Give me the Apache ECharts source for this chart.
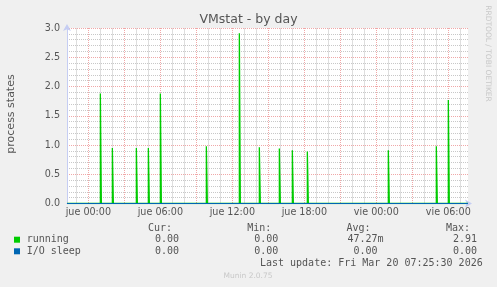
<!DOCTYPE html>
<html><head><meta charset="utf-8">
<script src="https://cdn.jsdelivr.net/npm/echarts@6/dist/echarts.min.js"></script>
<style>html,body{margin:0;padding:0;background:#f0f0f0;}#c{width:497px;height:287px;}</style>
</head><body><div id="c"></div>
<script>
// ---- data ----
const chartTitle = 'VMstat - by day';
const yAxisName = 'process states';
const dayNames = ['jue', 'vie'];
const xStartHours = -1.78;   // left edge of plot, hours relative to jue 00:00
const xEndHours = 31.64;     // right edge of plot
const xTickLabels = ['jue 00:00', 'jue 06:00', 'jue 12:00', 'jue 18:00', 'vie 00:00', 'vie 06:00'];
const yTickLabels = ['0.0', '0.5', '1.0', '1.5', '2.0', '2.5', '3.0'];
const runningTimes = ['jue 01:00', 'jue 02:00', 'jue 04:00', 'jue 05:00', 'jue 06:00', 'jue 09:50',
  'jue 12:35', 'jue 14:15', 'jue 15:55', 'jue 17:00', 'jue 18:15', 'vie 01:00', 'vie 05:00', 'vie 06:00'];
const runningValues = [1.88, 0.95, 0.95, 0.95, 1.88, 0.98, 2.91, 0.96, 0.94, 0.91, 0.89, 0.91, 0.98, 1.77];
const ioSleepValues = [0, 0];
const seriesNames = ['running', 'I/O sleep'];
const seriesColors = ['#00cc00', '#0066b3'];
const statHeaders = ['Cur:', 'Min:', 'Avg:', 'Max:'];
const runningStats = ['0.00', '0.00', '47.27m', '2.91'];
const ioSleepStats = ['0.00', '0.00', '0.00', '0.00'];
const lastUpdate = 'Last update: Fri Mar 20 07:25:30 2026';
const footerText = 'Munin 2.0.75';
const watermark = 'RRDTOOL / TOBI OETIKER';

// ---- helpers ----
function toHours(s) {
  const [d, hm] = s.split(' ');
  const [h, m] = hm.split(':').map(Number);
  return dayNames.indexOf(d) * 24 + h + m / 60;
}
const step = 5 / 60; // one 5-minute sample
const runningData = [[xStartHours, 0]];
runningTimes.forEach((t, i) => {
  const x = toHours(t);
  runningData.push([x, 0], [x, runningValues[i]], [x + step, 0]);
});
runningData.push([xEndHours, 0]);
const ioData = [[xStartHours, ioSleepValues[0]], [xEndHours, ioSleepValues[1]]];

function xLabel(v) {
  const h = Math.round(v);
  if (Math.abs(v - h) > 1e-6) return '';
  const d = Math.floor(h / 24);
  const hh = ((h % 24) + 24) % 24;
  const lbl = dayNames[d] + ' ' + String(hh).padStart(2, '0') + ':00';
  return xTickLabels.indexOf(lbl) >= 0 ? lbl : '';
}

// ---- layout ----
const FONT = 'DejaVu Sans';
const MONO = 'DejaVu Sans Mono';
const txtColor = '#555';
const gridGrey = '#c8c8c8';
const gridGreyV = '#dedede';
const gridRed = '#f0a8a8';
const axisColor = '#c5cdf3';

const colRight = [179, 278.3, 377.6, 477];
const rowY = [228.3, 239.7, 251.3];
const graphics = [];
function t(text, x, y, opts) {
  graphics.push({ type: 'text', x: x, y: y, silent: true, rotation: (opts && opts.rot) || 0,
    style: Object.assign({ text: text, fill: txtColor, font: '10px ' + MONO, textAlign: 'left', textVerticalAlign: 'middle' }, opts && opts.style) });
}
t(chartTitle, 248.5, 19.5, { style: { font: '12.5px ' + FONT, textAlign: 'center' } });
t(yAxisName, 11, 114, { rot: Math.PI / 2, style: { font: '11px ' + FONT, textAlign: 'center' } });
t(watermark, 488, 53.5, { rot: -Math.PI / 2, style: { font: '7.5px ' + FONT, textAlign: 'center', fill: '#c8c8c8' } });
t(footerText, 248, 276.3, { style: { font: '7.5px ' + FONT, textAlign: 'center', fill: '#c8c8c8' } });
statHeaders.forEach((h, i) => t(h, colRight[i] - 7, rowY[0], { style: { textAlign: 'right' } }));
[runningStats, ioSleepStats].forEach((stats, r) => {
  const y = rowY[r + 1];
  graphics.push({ type: 'rect', silent: true, shape: { x: 14, y: y - 3, width: 6, height: 6 }, style: { fill: seriesColors[r] } });
  t(seriesNames[r], 26.7, y);
  stats.forEach((s, i) => {
    const m = s.match(/^([-0-9.]+)(.*)$/);
    t(m[1], colRight[i], y, { style: { textAlign: 'right' } });
    if (m[2]) t(m[2], colRight[i], y);
  });
});
t(lastUpdate, 482.7, 263.7, { style: { textAlign: 'right' } });

const chart = echarts.init(document.getElementById('c'), null, { renderer: 'canvas' });
chart.setOption({
  backgroundColor: '#f0f0f0',
  animation: false,
  grid: { left: 67, right: 29, top: 28, bottom: 83.5, show: true, backgroundColor: '#ffffff', borderWidth: 0, containLabel: false, z: 0 },
  xAxis: [
    { type: 'value', z: 2, min: xStartHours, max: xEndHours, minInterval: 6, maxInterval: 6,
      axisLine: { show: true, onZero: false, symbol: ['none', 'arrow'], symbolSize: [6, 7], symbolOffset: [0, 4], lineStyle: { color: axisColor, width: 1 } },
      axisTick: { show: false },
      axisLabel: { show: true, margin: 4, showMinLabel: false, showMaxLabel: false, color: txtColor, fontFamily: FONT, fontSize: 9.6, formatter: xLabel },
      splitLine: { show: false } },
    { type: 'value', z: 2, position: 'top', min: xStartHours, max: xEndHours, minInterval: 3, maxInterval: 3, splitNumber: 10,
      axisLine: { show: false }, axisTick: { show: false }, axisLabel: { show: false },
      splitLine: { show: true, showMinLine: false, showMaxLine: false, lineStyle: { color: gridRed, type: [1, 1], width: 1 } } }
  ],
  yAxis: {
    type: 'value', z: 2, min: 0, max: 3, interval: 0.5,
    axisLine: { show: true, onZero: false, symbol: ['none', 'arrow'], symbolSize: [6, 7], symbolOffset: [0, 4], lineStyle: { color: axisColor, width: 1 } },
    axisTick: { show: false },
    axisLabel: { margin: 7, color: txtColor, fontFamily: FONT, fontSize: 9.6, formatter: (v) => yTickLabels[Math.round(v * 2)] },
    splitLine: { show: true, showMinLine: false, lineStyle: { color: gridRed, type: [1, 1], width: 1 } },
    minorTick: { show: false, splitNumber: 5 },
    minorSplitLine: { show: true, lineStyle: { color: gridGrey, type: [1, 1], width: 1 } }
  },
  series: [
    { name: seriesNames[0], type: 'line', xAxisIndex: 0, data: runningData, symbol: 'none', lineStyle: { color: seriesColors[0], width: 1.3 }, z: 10 },
    { name: seriesNames[1], type: 'line', xAxisIndex: 0, data: ioData, symbol: 'none', lineStyle: { color: seriesColors[1], width: 1 }, z: 11 }
  ]
});

// hourly minor vertical grid lines, positioned through the axis scales
const yTop = Math.round(chart.convertToPixel({ yAxisIndex: 0 }, 3));
const yBot = Math.round(chart.convertToPixel({ yAxisIndex: 0 }, 0));
for (let h = Math.ceil(xStartHours); h <= Math.floor(xEndHours); h++) {
  if (h % 3 === 0) continue;
  const x = Math.round(chart.convertToPixel({ xAxisIndex: 0 }, h) - 0.5) + 0.5;
  graphics.push({ type: 'line', silent: true, z: 5,
    shape: { x1: x, y1: yTop, x2: x, y2: yBot - 1 },
    style: { stroke: gridGreyV, lineWidth: 1 } });
}
chart.setOption({ graphic: graphics });
</script>
</body></html>
